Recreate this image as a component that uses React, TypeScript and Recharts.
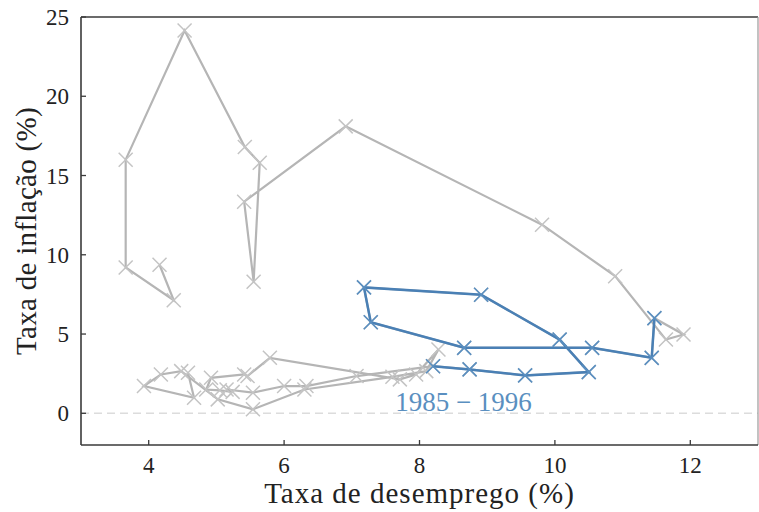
import React from 'react';
import { ScatterChart, Scatter, XAxis, YAxis, ReferenceLine, ReferenceDot } from 'recharts';

const years = [
  1971, 1972, 1973, 1974, 1975, 1976, 1977, 1978, 1979, 1980,
  1981, 1982, 1983, 1984, 1985, 1986, 1987, 1988, 1989, 1990,
  1991, 1992, 1993, 1994, 1995, 1996, 1997, 1998, 1999, 2000,
  2001, 2002, 2003, 2004, 2005, 2006, 2007, 2008, 2009, 2010,
  2011, 2012, 2013, 2014, 2015, 2016, 2017, 2018, 2019, 2020, 2021,
];
const unemployment = [
  4.16, 4.37, 3.66, 3.66, 4.53, 5.42, 5.64, 5.55, 5.41, 6.91,
  9.81, 10.89, 11.64, 11.9, 11.47, 11.43, 10.55, 8.66, 7.28, 7.18,
  8.91, 10.07, 10.5, 9.56, 8.74, 8.2, 7.07, 6.33, 6.0, 5.54,
  5.15, 5.24, 5.05, 4.85, 4.92, 5.41, 5.46, 5.79, 7.71, 7.95,
  8.28, 8.1, 7.6, 6.3, 5.54, 5.02, 4.48, 4.18, 3.93, 4.67, 4.58,
];
const inflation = [
  9.37, 7.13, 9.2, 16.0, 24.15, 16.8, 15.8, 8.3, 13.35, 18.1,
  11.9, 8.65, 4.65, 4.97, 6.0, 3.5, 4.13, 4.13, 5.74, 7.94,
  7.48, 4.65, 2.6, 2.39, 2.77, 2.97, 2.35, 1.72, 1.72, 1.3,
  1.5, 1.35, 1.45, 1.5, 2.24, 2.45, 2.35, 3.5, 2.14, 2.45,
  4.03, 2.66, 2.3, 1.5, 0.25, 0.88, 2.66, 2.45, 1.72, 0.98, 2.56,
];

const highlightStart = 1985;
const highlightEnd = 1996;
const highlightLabel = '1985 − 1996';
const labelX = 8.65;
const labelY = 0.72;

const xTicks = [4, 6, 8, 10, 12];
const yTicks = [0, 5, 10, 15, 20, 25];
const xDomain = [3, 13];
const yDomain = [-2, 25];
const xTitle = 'Taxa de desemprego (%)';
const yTitle = 'Taxa de inflação (%)';

const allData = years.map((yr, i) => ({ year: yr, x: unemployment[i], y: inflation[i] }));
const highlightData = allData.filter((d) => d.year >= highlightStart && d.year <= highlightEnd);

const FONT = '"Liberation Serif", "Times New Roman", serif';
const AXIS = '#3a3a3a';

const makeX = (color: string, s: number, w: number) => (props: any) => {
  const { cx, cy } = props;
  if (cx == null || cy == null) return <g />;
  return (
    <path
      d={`M${cx - s},${cy - s}L${cx + s},${cy + s}M${cx - s},${cy + s}L${cx + s},${cy - s}`}
      stroke={color}
      strokeWidth={w}
      fill="none"
    />
  );
};

const XTick = (props: any) => {
  const { x, y, payload } = props;
  const axisY = y - 10;
  return (
    <g>
      <line x1={x} x2={x} y1={axisY} y2={axisY - 5} stroke={AXIS} strokeWidth={1.3} />
      <text x={x} y={axisY + 28} textAnchor="middle" fontFamily={FONT} fontSize={23} fill="#222">
        {payload.value}
      </text>
    </g>
  );
};

const YTick = (props: any) => {
  const { x, y, payload } = props;
  const axisX = x + 12;
  return (
    <g>
      <line x1={axisX} x2={axisX + 5} y1={y} y2={y} stroke={AXIS} strokeWidth={1.3} />
      <text x={x} y={y + 8} textAnchor="end" fontFamily={FONT} fontSize={23} fill="#222">
        {payload.value}
      </text>
    </g>
  );
};

const XTitle = (props: any) => {
  const vb = props.viewBox || {};
  const cx = vb.x + vb.width / 2;
  return (
    <text x={cx} y={vb.y + 58} textAnchor="middle" fontFamily={FONT} fontSize={29} letterSpacing={1} fill="#222">
      {xTitle}
    </text>
  );
};

const YTitle = (props: any) => {
  const vb = props.viewBox || {};
  const cy = vb.y + vb.height / 2;
  const tx = 36;
  return (
    <text
      x={tx}
      y={cy}
      textAnchor="middle"
      fontFamily={FONT}
      fontSize={29}
      letterSpacing={0.3}
      fill="#222"
      transform={`rotate(-90, ${tx}, ${cy})`}
    >
      {yTitle}
    </text>
  );
};

export default function App() {
  return (
    <div style={{ position: 'absolute', left: 0, top: 0, width: 759, height: 512, background: '#fff' }}>
      <ScatterChart width={759} height={512} margin={{ top: 17, right: 1, bottom: 7, left: 0 }}>
        <XAxis
          type="number"
          dataKey="x"
          domain={xDomain}
          ticks={xTicks}
          allowDataOverflow
          height={60}
          tickSize={0}
          tickMargin={10}
          tickLine={false}
          tick={<XTick />}
          axisLine={{ stroke: AXIS, strokeWidth: 1.6 }}
          label={<XTitle />}
        />
        <YAxis
          type="number"
          dataKey="y"
          domain={yDomain}
          ticks={yTicks}
          allowDataOverflow
          width={81}
          tickSize={0}
          tickMargin={12}
          tickLine={false}
          tick={<YTick />}
          axisLine={{ stroke: AXIS, strokeWidth: 1.6 }}
          label={<YTitle />}
        />
        <ReferenceLine y={0} stroke="#dcdcdc" strokeWidth={1.5} strokeDasharray="8 5" />
        <ReferenceLine y={25} stroke={AXIS} strokeWidth={1.6} />
        <ReferenceLine x={13} stroke="#9a9a9a" strokeWidth={1.2} />
        <Scatter
          data={allData}
          isAnimationActive={false}
          line={{ stroke: '#b5b5b5', strokeWidth: 2.2 }}
          lineJointType="linear"
          shape={makeX('#c4c4c4', 7, 1.5)}
        />
        <Scatter
          data={highlightData}
          isAnimationActive={false}
          line={{ stroke: '#4a80b5', strokeWidth: 2.5 }}
          lineJointType="linear"
          shape={makeX('#5a8fc0', 7, 1.6)}
        />
        <ReferenceDot
          x={labelX}
          y={labelY}
          r={0}
          fill="none"
          stroke="none"
          label={{
            value: highlightLabel,
            position: 'center',
            fill: '#5a8fc0',
            fontSize: 27,
            fontFamily: FONT,
          }}
        />
      </ScatterChart>
    </div>
  );
}
